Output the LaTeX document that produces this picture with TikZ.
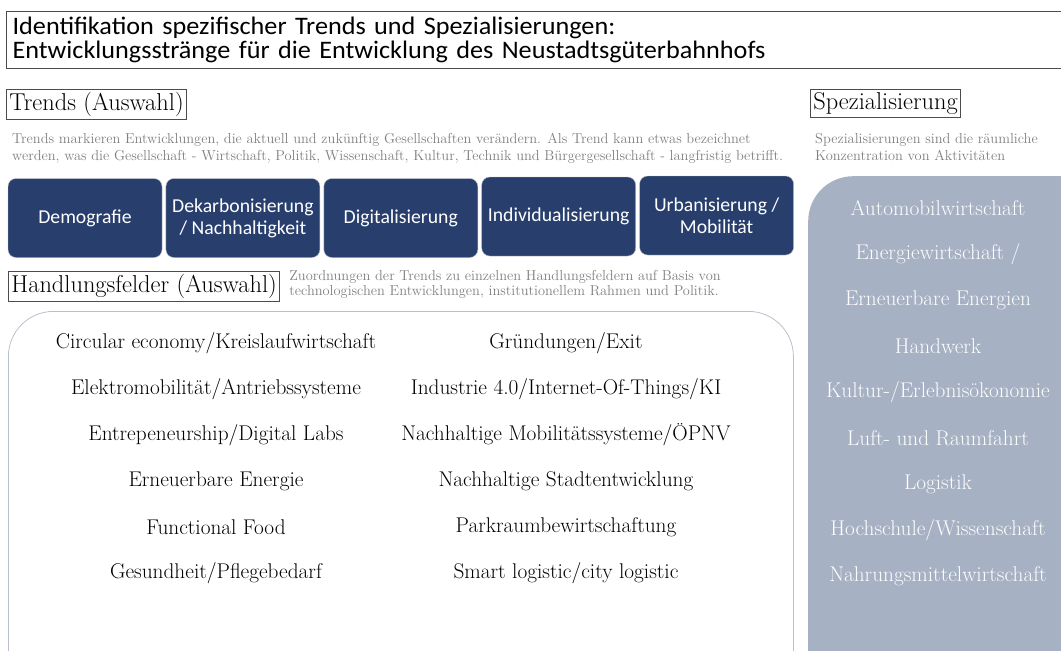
\documentclass[tikz,border=0pt]{standalone}
\usepackage{fontspec}
\usepackage{xcolor}
\usepackage{tikz}
\usetikzlibrary{positioning}
\newfontfamily\trendfont{Carlito}
\newfontfamily\titlefont[FakeStretch=1.04]{Carlito}
\definecolor{trendblue}{HTML}{283F6E}
\definecolor{panelgray}{HTML}{A7B1C4}
\definecolor{notegray}{HTML}{7F7F7F}
\definecolor{framegray}{HTML}{B9C0CC}
\newcommand{\fsz}[2]{\fontsize{#1}{#2}\selectfont}

\begin{document}
\begin{tikzpicture}[
  x=1pt, y=-1pt,
  heading/.style={draw=black!70, line width=0.8pt, inner sep=3pt, anchor=north west, font=\fsz{24.4}{28}},
  note/.style={anchor=north west, align=left, inner sep=0pt, text=notegray, font=\fsz{14.4}{17}},
  trend/.style={draw=black!25, fill=trendblue, text=white, rounded corners=8pt, minimum width=154pt, minimum height=79pt, inner sep=2pt, align=center, font=\trendfont\fsz{19.7}{22}},
  field/.style={inner sep=0pt, font=\fsz{21.3}{25}},
  spec/.style={inner sep=0pt, text=white!97!panelgray, font=\fsz{21.3}{25}}
]
\useasboundingbox (0,0) rectangle (1061,651);
\clip (0,0) rectangle (1061,651);
\node[draw=black!70, line width=1.2pt, anchor=north west, inner xsep=6pt, inner ysep=2pt, text width=1058pt, minimum height=57pt, align=left, font=\titlefont\fsz{25.2}{24.5}] (title) at (6,11)
  {Identifikation spezifischer Trends und Spezialisierungen:\\Entwicklungsstränge für die Entwicklung des Neustadtsgüterbahnhofs};
\node[heading] (trends) at (6,89) {Trends (Auswahl)};
\node[note] (trendnote) at (12,133) {Trends markieren Entwicklungen, die aktuell und zukünftig Gesellschaften verändern. Als Trend kann etwas bezeichnet\\werden, was die Gesellschaft - Wirtschaft, Politik, Wissenschaft, Kultur, Technik und Bürgergesellschaft - langfristig betrifft.};
\node[trend] (demo) at (85,218) {Demografie};
\node[trend, right=3.5pt of demo] (dekarb) {Dekarbonisierung\\/ Nachhaltigkeit};
\node[trend, right=3.5pt of dekarb] (digi) {Digitalisierung};
\node[trend, right=3.5pt of digi, yshift=1.5pt] (indiv) {Individualisierung};
\node[trend, right=3.5pt of indiv, yshift=1pt] (urban) {Urbanisierung /\\Mobilität};
\node[heading] (hfelder) at (8,271) {Handlungsfelder (Auswahl)};
\node[note, right=9pt of hfelder.north east, anchor=north west, yshift=1pt, font=\fsz{14.4}{15.5}] (hfnote) {Zuordnungen der Trends zu einzelnen Handlungsfeldern auf Basis von\\technologischen Entwicklungen, institutionellem Rahmen und Politik.};
\node[draw=framegray, line width=0.8pt, rounded corners=45pt, anchor=north west, minimum width=785pt, minimum height=400pt] (hfbox) at (8,311) {};
\node[field] (f1) at (216,343) {Circular economy/Kreislaufwirtschaft};
\node[field] (f2) at (216,389) {Elektromobilität/Antriebssysteme};
\node[field] (f3) at (216,435) {Entrepeneurship/Digital Labs};
\node[field] (f4) at (216,481) {Erneuerbare Energie};
\node[field] (f5) at (216,527) {Functional Food};
\node[field] (f6) at (216,573) {Gesundheit/Pflegebedarf};
\node[field] (g1) at (566,343) {Gründungen/Exit};
\node[field] (g2) at (566,389) {Industrie 4.0/Internet-Of-Things/KI};
\node[field] (g3) at (566,435) {Nachhaltige Mobilitätssysteme/ÖPNV};
\node[field] (g4) at (566,481) {Nachhaltige Stadtentwicklung};
\node[field] (g5) at (566,527) {Parkraumbewirtschaftung};
\node[field] (g6) at (566,573) {Smart logistic/city logistic};
\node[heading] (spez) at (810,89) {Spezialisierung};
\node[note] (speznote) at (815,133) {Spezialisierungen sind die räumliche\\Konzentration von Aktivitäten};
\node[fill=panelgray, rounded corners=45pt, anchor=north west, minimum width=300pt, minimum height=520pt] (spbox) at (808,176) {};
\node[spec] (s1) at (938,208) {Automobilwirtschaft};
\node[spec] (s2) at (938,254) {Energiewirtschaft /};
\node[spec] (s3) at (938,300) {Erneuerbare Energien};
\node[spec] (s4) at (938,346) {Handwerk};
\node[spec] (s5) at (938,392) {Kultur-/Erlebnisökonomie};
\node[spec] (s6) at (938,438) {Luft- und Raumfahrt};
\node[spec] (s7) at (938,484) {Logistik};
\node[spec] (s8) at (938,530) {Hochschule/Wissenschaft};
\node[spec] (s9) at (938,576) {Nahrungsmittelwirtschaft};
\end{tikzpicture}
\end{document}
